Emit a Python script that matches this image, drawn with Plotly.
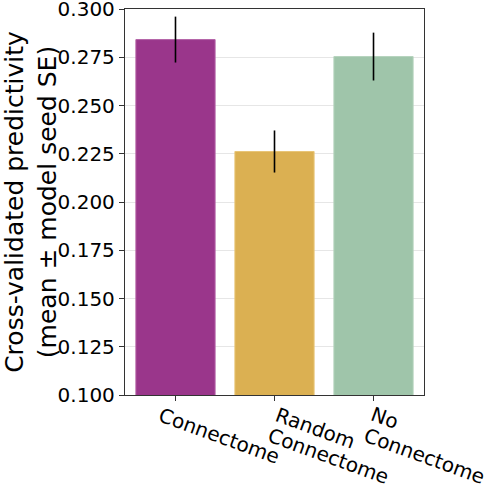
import math
import plotly.graph_objects as go

# valores
categories = ["Connectome", "Random<br>Connectome", "No<br>Connectome"]
mean_pred = [0.2842, 0.2262, 0.2754]
seed_se = [0.0119, 0.0109, 0.0124]
bar_colors = ["#9a368b", "#dbb052", "#9fc5aa"]
edge_colors = ["#b462a6", "#e8c577", "#b5d3bd"]
y_ticks = [0.1, 0.125, 0.15, 0.175, 0.2, 0.225, 0.25, 0.275, 0.3]

# corrimiento horizontal (px) de cada etiqueta del eje x, angulo e interlineado
label_shift = [-22, -5, -8]
label_angle = 20
line_gap = 22

fig = go.Figure()
fig.add_trace(go.Bar(
    x=categories,
    y=mean_pred,
    width=0.8,
    marker=dict(color=bar_colors, line=dict(color=edge_colors, width=1)),
    error_y=dict(type="data", array=seed_se, color="black", thickness=1.6, width=0),
))

# etiquetas del eje x rotadas; una anotacion por renglon para controlar el interlineado
a = math.radians(label_angle)
for cat, dx in zip(categories, label_shift):
    for i, line in enumerate(cat.split("<br>")):
        fig.add_annotation(
            x=cat, y=0, xref="x", yref="paper",
            text=line, showarrow=False, textangle=label_angle,
            xanchor="left", yanchor="top",
            xshift=dx - i * line_gap * math.sin(a),
            yshift=-5 - i * line_gap * math.cos(a),
            font=dict(size=20),
        )

fig.update_layout(
    width=486,
    height=484,
    margin=dict(l=125, r=62, t=9, b=89),
    plot_bgcolor="white",
    paper_bgcolor="white",
    font=dict(family="DejaVu Sans", size=20, color="black"),
    showlegend=False,
)
fig.update_xaxes(
    range=[-0.51, 2.51],
    automargin=False,
    showticklabels=False,
    ticks="outside",
    ticklen=5,
    tickcolor="#333333",
    showline=True,
    linecolor="#333333",
    linewidth=1.3,
    mirror=True,
    showgrid=False,
)
fig.update_yaxes(
    range=[0.1, 0.30005],
    automargin=False,
    tickvals=y_ticks,
    ticktext=["%.3f" % v for v in y_ticks],
    ticklabeloverflow="allow",
    ticks="outside",
    ticklen=5,
    tickcolor="#333333",
    showline=True,
    linecolor="#333333",
    linewidth=1.3,
    mirror=True,
    showgrid=True,
    gridcolor="#e6e6e6",
    gridwidth=1,
    zeroline=False,
    title=dict(text="Cross-validated predictivity<br>(mean ± model seed SE)",
               font=dict(size=25), standoff=9),
)

# quitar el margen por defecto del body para que la figura empiece en (0, 0)
fig.write_html("out.html", config={"displayModeBar": False},
               post_script="document.body.style.margin='0';")
